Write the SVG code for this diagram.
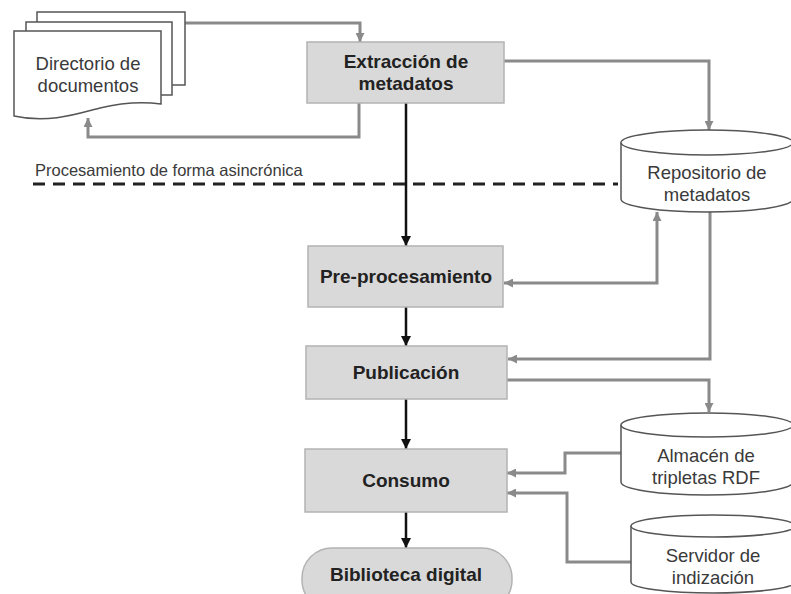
<svg xmlns="http://www.w3.org/2000/svg" width="791" height="594" viewBox="0 0 791 594">
<defs>
<style>
.box{fill:#d9d9d9;stroke:#b3b3b3;stroke-width:1.5}
.shape{fill:#fff;stroke:#555;stroke-width:1.5}
.g{fill:none;stroke:#8a8a8a;stroke-width:3}
.k{fill:none;stroke:#111;stroke-width:2.5}
.b{font-family:"Liberation Sans",Arial,sans-serif;font-weight:bold;font-size:19px;fill:#222;text-anchor:middle}
.r{font-family:"Liberation Sans",Arial,sans-serif;font-size:18.5px;fill:#3a3a3a;text-anchor:middle}
.a{font-family:"Liberation Sans",Arial,sans-serif;font-size:16.5px;fill:#3a3a3a}
</style>
<marker id="ga" viewBox="0 0 10 10" refX="10" refY="5" markerWidth="9" markerHeight="9" markerUnits="userSpaceOnUse" orient="auto-start-reverse">
<path d="M0,0 L10,5 L0,10 z" fill="#8a8a8a"/>
</marker>
<marker id="ka" viewBox="0 0 10 10" refX="10" refY="5" markerWidth="10" markerHeight="10" markerUnits="userSpaceOnUse" orient="auto">
<path d="M0,0 L10,5 L0,10 z" fill="#111"/>
</marker>
</defs>
<rect width="791" height="594" fill="#fff"/>

<g id="connectors">
<path class="g" d="M185,23 H360 V42" marker-end="url(#ga)"/>
<path class="g" d="M359,103 V137 H88 V118" marker-end="url(#ga)"/>
<path class="g" d="M504,61 H709 V130" marker-end="url(#ga)"/>
<path class="k" d="M406,103 V246" marker-end="url(#ka)"/>
<path d="M33,184 H618" fill="none" stroke="#222" stroke-width="3" stroke-dasharray="12,8"/>
<path class="g" d="M657,212 V283 H504" marker-start="url(#ga)" marker-end="url(#ga)"/>
<path class="g" d="M710,212 V359 H508" marker-end="url(#ga)"/>
<path class="k" d="M406,307 V346" marker-end="url(#ka)"/>
<path class="g" d="M507,380 H709 V412" marker-end="url(#ga)"/>
<path class="k" d="M406,399 V449" marker-end="url(#ka)"/>
<path class="g" d="M621,453 H565 V473 H507" marker-end="url(#ga)"/>
<path class="g" d="M631,562 H567 V493 H507" marker-end="url(#ga)"/>
<path class="k" d="M406,512 V548" marker-end="url(#ka)"/>
</g>

<g id="directorio">
<rect class="shape" x="37" y="12" width="148" height="73"/>
<rect class="shape" x="26" y="22" width="146" height="73"/>
<path class="shape" d="M14,31 H161 V104 C145,102 125,102 100,108 C80,113 50,124 14,116 Z"/>
<text class="r" x="88" y="70">Directorio de</text>
<text class="r" x="88" y="92">documentos</text>
</g>

<g id="extraccion">
<rect class="box" x="307" y="42" width="197" height="61"/>
<text class="b" x="406" y="68">Extracción de</text>
<text class="b" x="406" y="90">metadatos</text>
</g>

<g id="anotacion">
<text class="a" x="35" y="176">Procesamiento de forma asincrónica</text>
</g>

<g id="repositorio">
<path class="shape" d="M621,142.5 A86,12.5 0 0 1 793,142.5 V199 A86,13 0 0 1 621,199 Z"/>
<path class="shape" fill="none" d="M621,142.5 A86,12.5 0 0 0 793,142.5"/>
<text class="r" x="707" y="179">Repositorio de</text>
<text class="r" x="707" y="201">metadatos</text>
</g>

<g id="preprocesamiento">
<rect class="box" x="308" y="246" width="195" height="61"/>
<text class="b" x="406" y="283">Pre-procesamiento</text>
</g>

<g id="publicacion">
<rect class="box" x="306" y="346" width="201" height="53"/>
<text class="b" x="406" y="379">Publicación</text>
</g>

<g id="almacen">
<path class="shape" d="M621,425 A86,12 0 0 1 793,425 V482 A86,13 0 0 1 621,482 Z"/>
<path class="shape" fill="none" d="M621,425 A86,12 0 0 0 793,425"/>
<text class="r" x="706" y="462">Almacén de</text>
<text class="r" x="706" y="484">tripletas RDF</text>
</g>

<g id="consumo">
<rect class="box" x="305" y="449" width="202" height="63"/>
<text class="b" x="406" y="487">Consumo</text>
</g>

<g id="servidor">
<path class="shape" d="M631,526 A82,11 0 0 1 795,526 V582 A82,11 0 0 1 631,582 Z"/>
<path class="shape" fill="none" d="M631,526 A82,11 0 0 0 795,526"/>
<text class="r" x="713" y="562">Servidor de</text>
<text class="r" x="713" y="584">indización</text>
</g>

<g id="biblioteca">
<rect class="box" x="302" y="548" width="210" height="62" rx="30"/>
<text class="b" x="406" y="581">Biblioteca digital</text>
</g>
</svg>
